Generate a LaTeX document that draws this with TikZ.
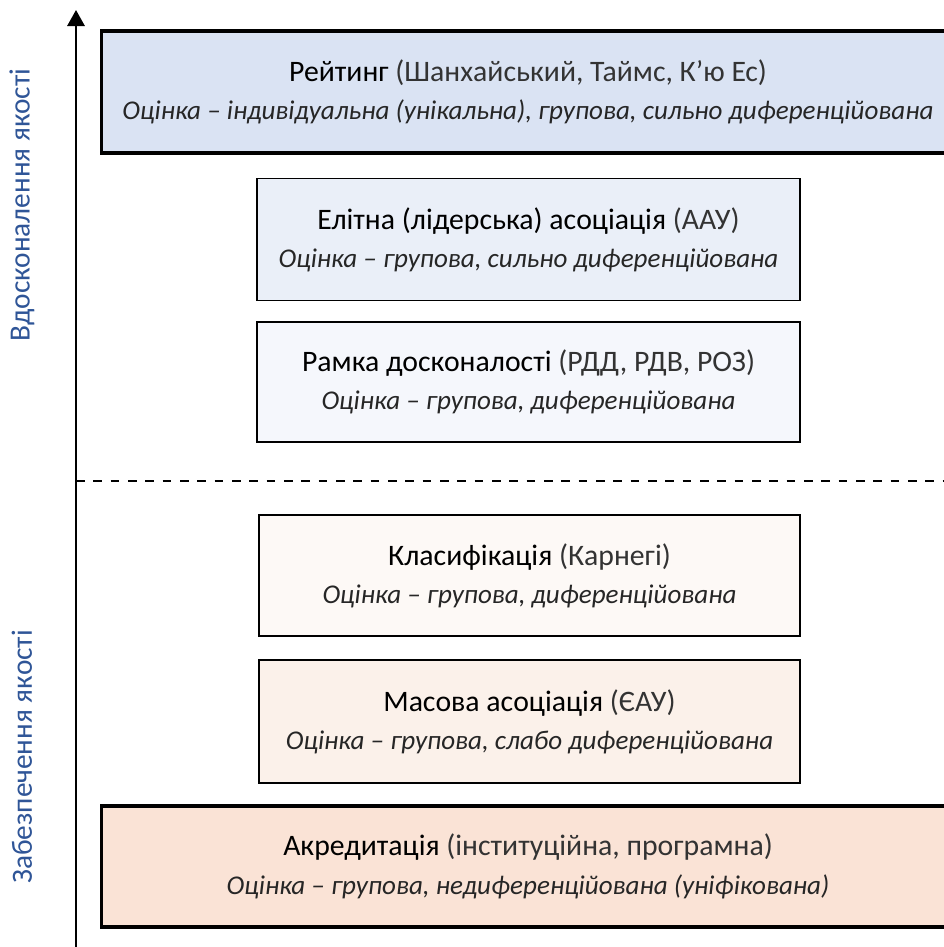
\documentclass[tikz,border=0pt]{standalone}
\usepackage{fontspec}
\setmainfont{Carlito}
\usetikzlibrary{arrows.meta}
\definecolor{qblue}{RGB}{47, 85, 151}
\definecolor{fillA}{RGB}{218, 227, 243}
\definecolor{fillB}{RGB}{234, 239, 248}
\definecolor{fillC}{RGB}{245, 247, 252}
\definecolor{fillD}{RGB}{253, 249, 246}
\definecolor{fillE}{RGB}{251, 241, 234}
\definecolor{fillF}{RGB}{250, 227, 214}
\newcommand{\headtxt}[2]{{\fontsize{22.3}{26}\selectfont #1 \textcolor{black!80}{#2}}}
\newcommand{\itltxt}[1]{{\fontsize{20.3}{24}\selectfont\itshape\color{black!85} #1}}

\tikzset{
  tierbox/.style={draw, line width=1.2pt, minimum width=407pt, minimum height=91.5pt, align=center, inner sep=0pt},
  edgebox/.style={tierbox, line width=2.4pt, minimum width=640pt},
  sidelabel/.style={rotate=90, text=qblue, font=\fontsize{22}{24}\selectfont}
}

\begin{document}
\begin{tikzpicture}[x=0.75pt, y=-0.75pt]
  \useasboundingbox (0,0) rectangle (944,947);
  \clip (0,0) rectangle (944,947);

  \coordinate (axbot) at (76,950);
  \coordinate (axtop) at (76,10);
  \coordinate (dashl) at (76,481);
  \coordinate (dashr) at (950,481);

  \draw[line width=1.5pt, -{Triangle[length=12pt, width=13pt]}] (axbot) -- (axtop);
  \draw[line width=2.2pt, dash pattern=on 6.5pt off 6.5pt] (dashl) -- (dashr);

  \node[edgebox, fill=fillA] (rating) at (528,92)
    {\headtxt{Рейтинг}{(Шанхайський, Таймс, К’ю Ес)}\\[10pt]
     \itltxt{Оцінка – індивідуальна (унікальна), групова, сильно диференційована}};
  \node[tierbox, fill=fillB] (elite) at (528.5,239.5)
    {\headtxt{Елітна (лідерська) асоціація}{(ААУ)}\\[10pt]
     \itltxt{Оцінка – групова, сильно диференційована}};
  \node[tierbox, fill=fillC, minimum height=90pt] (frame) at (528.5,382)
    {\headtxt{Рамка досконалості}{(РДД, РДВ, РОЗ)}\\[10pt]
     \itltxt{Оцінка – групова, диференційована}};
  \node[tierbox, fill=fillD, minimum width=405.75pt, minimum height=90.75pt] (classif) at (529.5,575.5)
    {\headtxt{Класифікація}{(Карнегі)}\\[10pt]
     \itltxt{Оцінка – групова, диференційована}};
  \node[tierbox, fill=fillE, minimum width=405.75pt, minimum height=92.25pt] (mass) at (529.5,721.5)
    {\headtxt{Масова асоціація}{(ЄАУ)}\\[10pt]
     \itltxt{Оцінка – групова, слабо диференційована}};
  \node[edgebox, fill=fillF, minimum height=90.75pt] (accred) at (528,866.5)
    {\headtxt{Акредитація}{(інституційна, програмна)}\\[10pt]
     \itltxt{Оцінка – групова, недиференційована (уніфікована)}};

  \node[sidelabel] (improve) at (22,205) {Вдосконалення якості};
  \node[sidelabel] (assure) at (22,757) {Забезпечення якості};
\end{tikzpicture}
\end{document}
